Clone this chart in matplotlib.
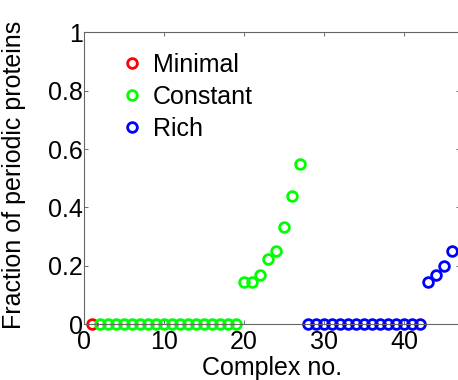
import numpy as np
import matplotlib
matplotlib.use('Agg')
import matplotlib.pyplot as plt

plt.rcParams['font.family'] = ['Liberation Sans', 'DejaVu Sans']

# complex numbers and fraction of periodic proteins
minimal_x = [1]
minimal_y = [0]

constant_x = list(range(2, 28))
constant_y = [0] * 18 + [0.143, 0.143, 0.167, 0.222, 0.25, 0.333, 0.44, 0.55]

rich_x = list(range(28, 47))
rich_y = [0] * 15 + [0.143, 0.167, 0.2, 0.25]

fig = plt.figure(figsize=(4.58, 3.8), dpi=100)
ax = fig.add_axes([0.1834, 0.147, 0.821, 0.768])

kw = dict(linestyle='none', marker='o', markersize=7, markeredgewidth=2,
          markerfacecolor='none', clip_on=False)
ax.plot(minimal_x, minimal_y, color='#ff0000', label='Minimal', **kw)
ax.plot(constant_x, constant_y, color='#00ff00', label='Constant', **kw)
ax.plot(rich_x, rich_y, color='#0000ff', label='Rich', **kw)

ax.set_xlim(0, 47)
ax.set_ylim(0, 1)
ax.set_xticks([0, 10, 20, 30, 40])
ax.set_yticks([0, 0.2, 0.4, 0.6, 0.8, 1])
ax.set_yticklabels(['0', '0.2', '0.4', '0.6', '0.8', '1'])
ax.tick_params(direction='in', length=3, width=0.6, labelsize=18, colors='#555555',
               labelcolor='black', top=True, right=True)
ax.tick_params(axis='x', pad=4)
ax.tick_params(axis='y', pad=1)
for s in ax.spines.values():
    s.set_color('#666666')
    s.set_linewidth(0.8)

ax.set_xlabel('Complex no.', fontsize=18, labelpad=2)
ax.set_ylabel('Fraction of periodic proteins', fontsize=18, labelpad=6)
ax.yaxis.set_label_coords(-0.155, 0.51)

ax.legend(loc='upper left', bbox_to_anchor=(0.08, 0.965), frameon=False,
          fontsize=18, handlelength=0.6, handletextpad=0.55, labelspacing=0.32,
          numpoints=1, borderaxespad=0)

fig.savefig('out.png', dpi=100)
